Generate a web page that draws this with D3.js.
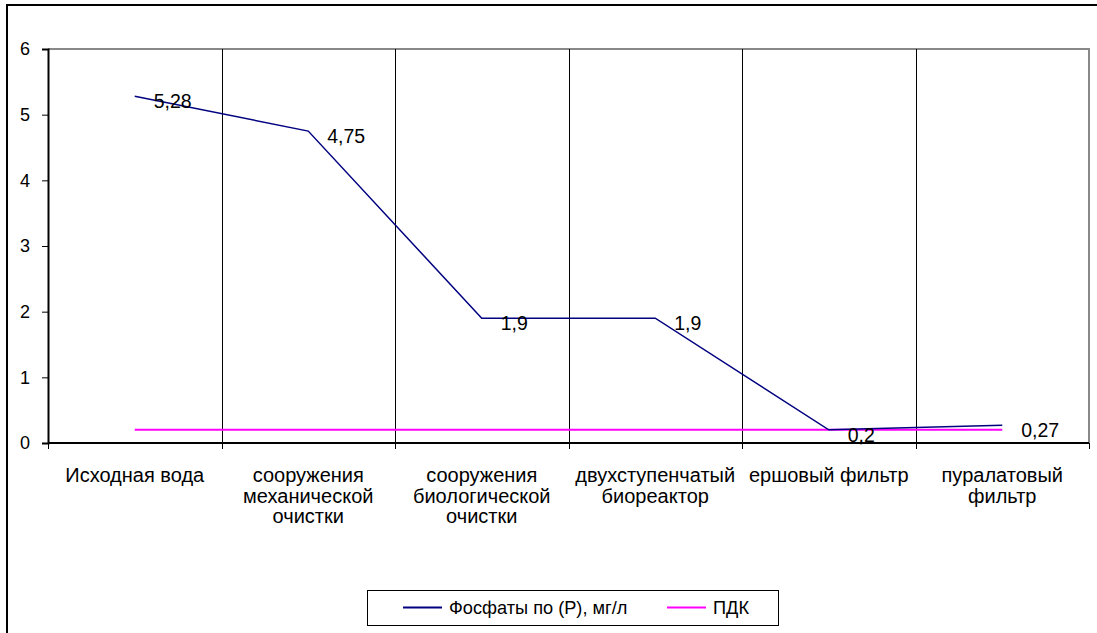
<!DOCTYPE html>
<html>
<head>
<meta charset="utf-8">
<script src="https://cdn.jsdelivr.net/npm/d3@7"></script>
<style>
  html, body { margin: 0; padding: 0; background: #fff; }
  svg { display: block; }
  text { font-family: "Liberation Sans", Arial, sans-serif; fill: #000; }
</style>
</head>
<body>
<svg id="chart" width="1097" height="633"></svg>
<script>
// Treatment stages along the x axis
const categories = [
  "Исходная вода",
  "сооружения механической очистки",
  "сооружения биологической очистки",
  "двухступенчатый биореактор",
  "ершовый фильтр",
  "пуралатовый фильтр"
];
// Phosphate concentration by stage, mg/l
const phosphates = [5.28, 4.75, 1.9, 1.9, 0.2, 0.27];
// Maximum permissible concentration
const pdk = [0.2, 0.2, 0.2, 0.2, 0.2, 0.2];
const yTicks = [0, 1, 2, 3, 4, 5, 6];
const seriesNames = ["Фосфаты по (Р), мг/л", "ПДК"];

const svg = d3.select("#chart");
const plot = { left: 48, right: 1089, top: 49, bottom: 443 };
const tickFont = 18;
const catFont = 20;
const labelFont = 19.5;
const legendFont = 18.2;

// Outer chart frame
svg.append("rect")
  .attr("x", 7).attr("y", 5)
  .attr("width", 1200).attr("height", 700)
  .attr("fill", "none").attr("stroke", "#000").attr("stroke-width", 2);

const x = d3.scaleBand().domain(categories).range([plot.left, plot.right]).padding(0);
const y = d3.scaleLinear().domain([0, 6]).range([plot.bottom, plot.top]);
const cx = d => x(d) + x.bandwidth() / 2;

// Plot area border (top and right)
svg.append("path")
  .attr("d", `M${plot.left},${plot.top}H${plot.right}V${plot.bottom}`)
  .attr("fill", "none").attr("stroke", "#888").attr("stroke-width", 2);

// Vertical gridlines at category boundaries
const bounds = categories.slice(1).map(c => x(c));
svg.append("g").selectAll("line").data(bounds).join("line")
  .attr("x1", d => Math.round(d) + 0.5).attr("x2", d => Math.round(d) + 0.5)
  .attr("y1", plot.top).attr("y2", plot.bottom)
  .attr("stroke", "#000").attr("stroke-width", 1);

// Y axis
const yAxis = svg.append("g")
  .attr("transform", `translate(${plot.left},0)`)
  .call(d3.axisLeft(y).tickValues(yTicks).tickSize(6).tickPadding(12).tickFormat(d3.format("d")));
yAxis.select(".domain").attr("stroke", "#000").attr("stroke-width", 2);
yAxis.selectAll(".tick line").attr("stroke", "#000");
yAxis.selectAll(".tick text")
  .style("font-family", "'Liberation Sans', Arial, sans-serif")
  .style("font-size", tickFont + "px").attr("fill", "#000");

// X axis with ticks at category boundaries
const xAxis = svg.append("g").attr("transform", `translate(0,${plot.bottom})`);
xAxis.append("line")
  .attr("x1", plot.left).attr("x2", plot.right)
  .attr("y1", 0).attr("y2", 0)
  .attr("stroke", "#000").attr("stroke-width", 2);
const allBounds = [plot.left, ...bounds, plot.right];
xAxis.selectAll("line.tick").data(allBounds).join("line")
  .attr("class", "tick")
  .attr("x1", d => Math.round(d) + 0.5).attr("x2", d => Math.round(d) + 0.5)
  .attr("y1", 0).attr("y2", 6)
  .attr("stroke", "#000");

// Category labels, wrapped to the band width
const measure = svg.append("text").style("font-size", catFont + "px");
function wrap(str, maxW) {
  const words = str.split(" ");
  const lines = [];
  let cur = "";
  words.forEach(w => {
    const test = cur ? cur + " " + w : w;
    measure.text(test);
    if (cur && measure.node().getComputedTextLength() > maxW) {
      lines.push(cur); cur = w;
    } else cur = test;
  });
  if (cur) lines.push(cur);
  return lines;
}
categories.forEach(c => {
  const lines = wrap(c, x.bandwidth() - 4);
  const t = svg.append("text")
    .attr("x", cx(c)).attr("y", plot.bottom + 39)
    .attr("text-anchor", "middle")
    .style("font-size", catFont + "px");
  lines.forEach((ln, i) => {
    t.append("tspan").attr("x", cx(c)).attr("dy", i === 0 ? 0 : 20.5).text(ln);
  });
});
measure.remove();

// Series lines
const line = d3.line().x((d, i) => cx(categories[i])).y(d => y(d));
svg.append("path").datum(pdk)
  .attr("d", line).attr("fill", "none")
  .attr("stroke", "#ff00ff").attr("stroke-width", 2);
svg.append("path").datum(phosphates)
  .attr("d", line).attr("fill", "none")
  .attr("stroke", "#000080").attr("stroke-width", 1.5);

// Data labels to the right of each point
const fmt = v => String(v).replace(".", ",");
svg.append("g").selectAll("text").data(phosphates).join("text")
  .attr("x", (d, i) => cx(categories[i]) + 19)
  .attr("y", d => y(d) + 5)
  .attr("dominant-baseline", "central")
  .style("font-size", labelFont + "px")
  .text(fmt);

// Legend
const legend = svg.append("g");
legend.append("rect")
  .attr("x", 367.5).attr("y", 590.5).attr("width", 411).attr("height", 35)
  .attr("fill", "#fff").attr("stroke", "#000").attr("stroke-width", 1);
const legendItems = [
  { name: seriesNames[0], color: "#000080", x0: 403 },
  { name: seriesNames[1], color: "#ff00ff", x0: 667 }
];
legendItems.forEach(it => {
  legend.append("line")
    .attr("x1", it.x0).attr("x2", it.x0 + 39)
    .attr("y1", 607.5).attr("y2", 607.5)
    .attr("stroke", it.color).attr("stroke-width", 2);
  legend.append("text")
    .attr("x", it.x0 + 46).attr("y", 608)
    .attr("dominant-baseline", "central")
    .style("font-size", legendFont + "px")
    .text(it.name);
});
</script>
</body>
</html>
